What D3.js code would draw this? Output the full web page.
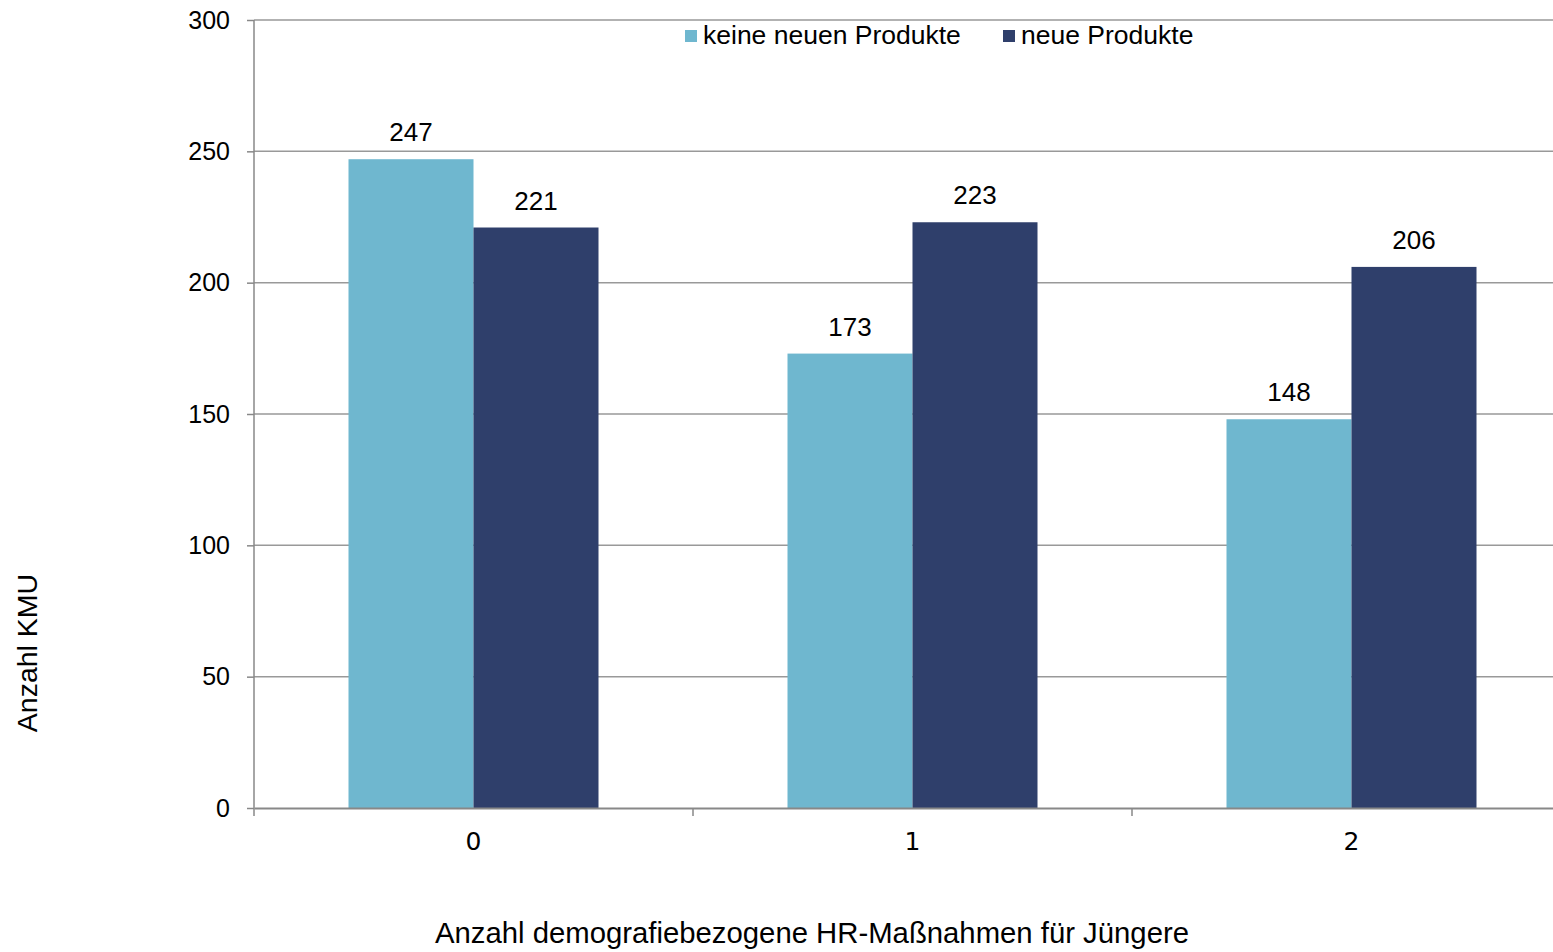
<!DOCTYPE html>
<html>
<head>
<meta charset="utf-8">
<script src="https://cdn.jsdelivr.net/npm/d3@7"></script>
<style>
body { margin: 0; background: #fff; overflow: hidden; }
#vis { width: 1553px; height: 952px; }
text { font-family: "Liberation Sans", Arial, sans-serif; fill: #000; }
</style>
</head>
<body>
<div id="vis"></div>
<script>
var categories = ['0', '1', '2'];
var series = ['keine neuen Produkte', 'neue Produkte'];
var keineNeuen = [247, 173, 148];
var neue = [221, 223, 206];
var y_ticks = [0, 50, 100, 150, 200, 250, 300];
var colours = ['#6fb7cf', '#2f3f6b'];

var width = 1553, height = 952;
var margin = { top: 20, bottom: 144, left: 254, right: -18 };

var svg = d3.select('#vis')
    .append('svg')
    .attr('width', width)
    .attr('height', height);

var plot_w = width - margin.left - margin.right;
var plot_h = height - margin.top - margin.bottom;

var g = svg.append('g')
    .attr('transform', 'translate(' + margin.left + ',' + margin.top + ')');

var x_scale = d3.scaleBand()
    .domain(categories)
    .range([0, plot_w]);

var x_inner = d3.scaleBand()
    .domain(series)
    .range([0, x_scale.bandwidth()])
    .paddingOuter(0.756);

var y_scale = d3.scaleLinear()
    .domain([0, 300])
    .range([plot_h, 0]);

// gridlines
g.selectAll('.grid')
    .data(y_ticks.slice(1))
    .enter()
    .append('line')
    .attr('x1', 0)
    .attr('x2', plot_w)
    .attr('y1', function (d) { return y_scale(d); })
    .attr('y2', function (d) { return y_scale(d); })
    .attr('stroke', '#999')
    .attr('stroke-width', 1.5);

var data = categories.map(function (c, i) {
    return { cat: c, values: [keineNeuen[i], neue[i]] };
});

var groups = g.selectAll('.group')
    .data(data)
    .enter()
    .append('g')
    .attr('transform', function (d) { return 'translate(' + x_scale(d.cat) + ',0)'; });

groups.selectAll('rect')
    .data(function (d) { return d.values.map(function (v, j) { return { s: series[j], v: v, j: j }; }); })
    .enter()
    .append('rect')
    .attr('x', function (d) { return x_inner(d.s); })
    .attr('width', x_inner.bandwidth())
    .attr('y', function (d) { return y_scale(d.v); })
    .attr('height', function (d) { return plot_h - y_scale(d.v); })
    .attr('fill', function (d) { return colours[d.j]; });

groups.selectAll('.lbl')
    .data(function (d) { return d.values.map(function (v, j) { return { s: series[j], v: v }; }); })
    .enter()
    .append('text')
    .attr('x', function (d) { return x_inner(d.s) + x_inner.bandwidth() / 2; })
    .attr('y', function (d) { return y_scale(d.v) - 18; })
    .attr('text-anchor', 'middle')
    .style('font-size', '26px')
    .text(function (d) { return d.v; });

// y axis
var y_axis = d3.axisLeft(y_scale).tickValues(y_ticks).tickSize(7).tickPadding(17);
var ya = g.append('g').call(y_axis);
ya.select('.domain').attr('stroke', '#888').attr('stroke-width', 1.5).attr('d', 'M0,0V' + plot_h);
ya.selectAll('.tick line').attr('stroke', '#888').attr('stroke-width', 1.5);
ya.selectAll('.tick text').style('font-size', '25px').style('font-family', '"Liberation Sans", Arial, sans-serif');

// x axis
var x_axis = d3.axisBottom(x_scale).tickSize(0).tickPadding(24);
var xa = g.append('g')
    .attr('transform', 'translate(0,' + plot_h + ')')
    .call(x_axis);
xa.select('.domain').attr('stroke', '#888').attr('stroke-width', 2);
xa.selectAll('.tick text').style('font-size', '25px').style('font-family', '"DejaVu Sans", sans-serif');

// boundary ticks between categories
xa.selectAll('.bound')
    .data(categories)
    .enter()
    .append('line')
    .attr('x1', function (d) { return x_scale(d); })
    .attr('x2', function (d) { return x_scale(d); })
    .attr('y1', 0)
    .attr('y2', 8)
    .attr('stroke', '#888')
    .attr('stroke-width', 1.5);

// legend
var legend_x = [685, 1003];
var legend = svg.selectAll('.legend')
    .data(series)
    .enter()
    .append('g')
    .attr('transform', function (d, i) { return 'translate(' + legend_x[i] + ',30)'; });
legend.append('rect')
    .attr('width', 12)
    .attr('height', 12)
    .attr('fill', function (d, i) { return colours[i]; });
legend.append('text')
    .attr('x', 18)
    .attr('y', 14)
    .style('font-size', '26.5px')
    .text(function (d) { return d; });

// axis titles
svg.append('text')
    .attr('transform', 'translate(37,653) rotate(-90)')
    .attr('text-anchor', 'middle')
    .style('font-size', '28.5px')
    .text('Anzahl KMU');

svg.append('text')
    .attr('x', 812)
    .attr('y', 943)
    .attr('text-anchor', 'middle')
    .style('font-size', '29.3px')
    .text('Anzahl demografiebezogene HR-Maßnahmen für Jüngere');
</script>
</body>
</html>
